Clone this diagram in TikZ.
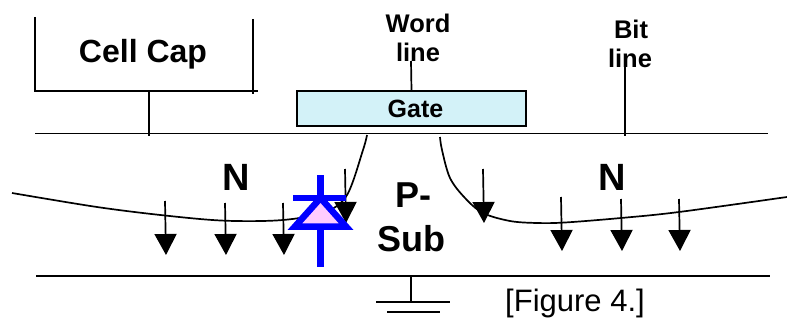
\documentclass[tikz,border=0pt]{standalone}
\usepackage{fontspec}
\setmainfont{Liberation Sans}
\usepackage{xcolor}
\usetikzlibrary{arrows.meta}
\definecolor{gatefill}{RGB}{211, 242, 248}
\definecolor{diodeblue}{RGB}{0, 0, 255}
\definecolor{diodefill}{RGB}{255, 204, 255}

\begin{document}
\begin{tikzpicture}[
    x=1pt, y=-1pt,
    wire/.style={draw=black, line width=1.7pt},
    carrier/.style={draw=black, line width=1.7pt, -{Triangle[length=21pt, width=22pt]}},
    diodeline/.style={draw=diodeblue, line width=6.5pt},
    label/.style={inner sep=0pt, font=\bfseries\fontsize{32}{32}\selectfont},
    smalllabel/.style={inner sep=0pt, font=\bfseries\fontsize{25.5}{25.5}\selectfont},
    gatebox/.style={rectangle, draw=black, fill=gatefill, line width=1.7pt, minimum width=229pt, minimum height=35pt, inner sep=0pt, font=\bfseries\fontsize{25}{25}\selectfont}
]
    \useasboundingbox (0,0) rectangle (787,321);

    % Nodes
    \node [label] (cellcap) at (143,54) {Cell Cap};
    \node [gatebox] (gate) at (411.5,108.5) {\kern8pt Gate};
    \node [smalllabel] (word) at (418,23) {Word};
    \node [smalllabel] (wordline) at (418,52) {line};
    \node [smalllabel] (bit) at (631,29) {Bit};
    \node [smalllabel] (bitline) at (630,58) {line};
    \node [label, font=\bfseries\fontsize{38}{38}\selectfont] (nleft) at (236,177) {N};
    \node [label, font=\bfseries\fontsize{38}{38}\selectfont] (nright) at (612,177) {N};
    \node [label, font=\bfseries\fontsize{36}{36}\selectfont] (psub) at (413,195) {P-};
    \node [label, font=\bfseries\fontsize{36}{36}\selectfont] (sub) at (411,239) {Sub};
    \node [inner sep=0pt, font=\fontsize{31}{31}\selectfont] (figure) at (575,303) {[Figure 4.]};

    % Points
    \coordinate (capleft) at (35,17);
    \coordinate (capcorner) at (35,91);
    \coordinate (capend) at (258,91);
    \coordinate (capright) at (253,19);
    \coordinate (capfoot) at (253,94);
    \coordinate (capstem) at (149,91);
    \coordinate (topleft) at (35,133.5);
    \coordinate (topright) at (768,133.5);
    \coordinate (capdrop) at (149,136);
    \coordinate (wordtop) at (411,61);
    \coordinate (bittop) at (625,65);
    \coordinate (bitdrop) at (625,136);
    \coordinate (bottomleft) at (36,275.7);
    \coordinate (bottomright) at (770,275.7);
    \coordinate (groundtop) at (411,275.7);
    \coordinate (groundmid) at (411,302);
    \coordinate (groundaleft) at (376,302);
    \coordinate (groundaright) at (450,302);
    \coordinate (groundbleft) at (387,312);
    \coordinate (groundbright) at (440,312);

    % Lines
    \path [wire] (capleft) -- (capcorner) -- (capend);
    \path [wire] (capright) -- (capfoot);
    \path [wire] (capstem) -- (capdrop);
    \path [wire] (topleft) -- (topright);
    \path [wire] (wordtop) -- (gate.north);
    \path [wire] (bittop) -- (bitdrop);
    \path [wire] (bottomleft) -- (bottomright);
    \path [wire] (groundtop) -- (groundmid);
    \path [wire] (groundaleft) -- (groundaright);
    \path [wire] (groundbleft) -- (groundbright);

    % Junction edges
    \draw [wire] plot [smooth, tension=0.55] coordinates {(12,193) (97,207) (165,215.5) (225,220.7) (283,220) (325,212) (347,195) (363,150) (367,135)};
    \draw [wire] plot [smooth, tension=0.55] coordinates {(440,137) (442,150) (450,178) (465,198) (483,213) (510,221) (537,223) (565,222.5) (621,218) (679,212) (787,197)};

    % Carriers
    \coordinate (aone) at (165,201);      \coordinate (aonetip) at (166,255);
    \coordinate (atwo) at (225,203);      \coordinate (atwotip) at (226,255);
    \coordinate (athree) at (283,203);    \coordinate (athreetip) at (284,255);
    \coordinate (afour) at (345,169);     \coordinate (afourtip) at (346,223);
    \coordinate (afive) at (483,169);     \coordinate (afivetip) at (484,223);
    \coordinate (asix) at (561,197);      \coordinate (asixtip) at (562,251);
    \coordinate (aseven) at (621,199);    \coordinate (aseventip) at (622,251);
    \coordinate (aeight) at (679,199);    \coordinate (aeighttip) at (680,251);
    \path [carrier] (aone) -- (aonetip);
    \path [carrier] (atwo) -- (atwotip);
    \path [carrier] (athree) -- (athreetip);
    \path [carrier] (afour) -- (afourtip);
    \path [carrier] (afive) -- (afivetip);
    \path [carrier] (asix) -- (asixtip);
    \path [carrier] (aseven) -- (aseventip);
    \path [carrier] (aeight) -- (aeighttip);

    % Diode
    \coordinate (diodetop) at (320.5,175);
    \coordinate (diodeapex) at (320.5,198);
    \coordinate (diodebarleft) at (293,198);
    \coordinate (diodebarright) at (346,198);
    \coordinate (diodeleft) at (295,226.5);
    \coordinate (dioderight) at (346,226.5);
    \coordinate (diodebase) at (320.5,226.5);
    \coordinate (diodebottom) at (320.5,267);
    \path [diodeline, fill=diodefill, miter limit=10] (diodeapex) -- (dioderight) -- (diodeleft) -- cycle;
    \path [diodeline] (diodetop) -- (diodeapex);
    \path [diodeline] (diodebarleft) -- (diodebarright);
    \path [diodeline] (diodebase) -- (diodebottom);

\end{tikzpicture}
\end{document}
